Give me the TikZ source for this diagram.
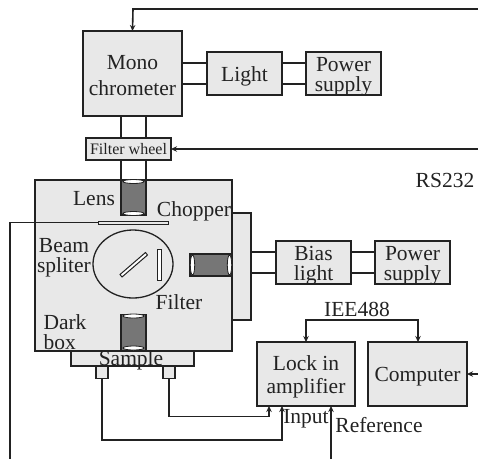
\documentclass[tikz,border=0pt]{standalone}
\usepackage{fontspec}
\setmainfont{Liberation Serif}
\usetikzlibrary{arrows.meta,calc}
\definecolor{boxgray}{HTML}{E8E8E8}
\definecolor{lensgray}{HTML}{767676}
\definecolor{inkc}{HTML}{222222}
\newcommand\dropped[1]{\raisebox{-8.5pt}[0pt][0pt]{\begin{tabular}{@{}c@{}}#1\end{tabular}}}
\tikzset{
  panel/.style={draw=inkc,line width=1.6pt,fill=boxgray,inner sep=0pt,outer sep=0pt,
    font=\fontsize{21.5}{18}\selectfont,text=inkc},
  lens/.style={draw=inkc,line width=1.6pt,fill=lensgray,inner sep=0pt,outer sep=0pt},
  lbl/.style={inner sep=0pt,outer sep=0pt,align=center,font=\fontsize{21.5}{18}\selectfont,text=inkc},
  wire/.style={draw=inkc,line width=1.6pt},
  arr/.style={wire,-{Stealth[length=6pt,width=5.5pt]}},
  opening/.style={draw=inkc,line width=0.8pt,fill=white}
}
\begin{document}
\begin{tikzpicture}[x=1pt,y=-1pt]
\useasboundingbox (0,0) rectangle (478,459);
% free ends
\coordinate (topR) at (478,9);
\coordinate (wheelR) at (478,149);
\coordinate (compR) at (478,374);
\coordinate (chopB) at (10,459);
\coordinate (refB) at (331,459);
\coordinate (chopC) at (10,222.5);
% side housing and dark box
\node[panel,minimum width=19pt,minimum height=107pt] (side) at (241.5,266.5) {};
\node[panel,minimum width=197pt,minimum height=171pt] (dark) at (133.5,265.5) {};
\node[panel,minimum width=123pt,minimum height=15pt] (sample) at (132.5,358.5) {};
\node[panel,minimum width=12pt,minimum height=12pt] (pinL) at (102,372.5) {};
\node[panel,minimum width=12pt,minimum height=12pt] (pinR) at (169,372.5) {};
% main boxes
\node[panel,minimum width=99pt,minimum height=85pt,font=\fontsize{21.5}{26}\selectfont] (mono) at (132.5,73.5) {\dropped{Mono\\chrometer}};
\node[panel,minimum width=75pt,minimum height=43pt] (light) at (244.5,73.5) {\dropped{Light}};
\node[panel,minimum width=75pt,minimum height=43pt] (psA) at (343.5,73.5) {\dropped{Power\\supply}};
\node[panel,minimum width=85pt,minimum height=22pt,font=\fontsize{16}{16}\selectfont] (wheel) at (128.5,149) {Filter wheel};
\node[panel,minimum width=75pt,minimum height=43pt] (bias) at (313.5,262.5) {\dropped{Bias\\light}};
\node[panel,minimum width=75pt,minimum height=43pt] (psB) at (412.5,262.5) {\dropped{Power\\supply}};
\node[panel,minimum width=98pt,minimum height=64pt,font=\fontsize{21.5}{23}\selectfont] (lock) at (306,374) {\dropped{Lock in\\amplifier}};
\node[panel,minimum width=99pt,minimum height=64pt] (comp) at (417.5,374) {\dropped{Computer}};
% paired links
\draw[wire] ([yshift=10.5pt]mono.east) -- ([yshift=10.5pt]light.west);
\draw[wire] ([yshift=-10.5pt]mono.east) -- ([yshift=-10.5pt]light.west);
\draw[wire] ([yshift=10.5pt]light.east) -- ([yshift=10.5pt]psA.west);
\draw[wire] ([yshift=-10.5pt]light.east) -- ([yshift=-10.5pt]psA.west);
\draw[wire] ([yshift=10.5pt]bias.east) -- ([yshift=10.5pt]psB.west);
\draw[wire] ([yshift=-10.5pt]bias.east) -- ([yshift=-10.5pt]psB.west);
\draw[wire] (side.east |- 0,252) -- ([yshift=10.5pt]bias.west);
\draw[wire] (side.east |- 0,273) -- ([yshift=-10.5pt]bias.west);
\draw[wire] (121,116.5) -- (121,138);
\draw[wire] (146,116.5) -- (146,138);
\draw[wire] (121,160) -- (121,180);
\draw[wire] (146,160) -- (146,180);
% lenses
\node[lens,minimum width=25pt,minimum height=35pt] (lensT) at (133.5,197.5) {};
\draw[opening] (133.5,181.5) ellipse (10.5pt and 2pt);
\draw[opening] (133.5,213.5) ellipse (10.5pt and 2pt);
\node[lens,minimum width=25pt,minimum height=36pt] (lensB) at (133.5,332.5) {};
\draw[opening] (133.5,316) ellipse (10.5pt and 2pt);
\draw[opening] (133.5,348) ellipse (10.5pt and 2pt);
\node[lens,minimum width=42pt,minimum height=22pt] (lensR) at (211,265) {};
\draw[opening] (192.5,265) ellipse (2.2pt and 10pt);
\draw[opening] (229.5,265) ellipse (2.2pt and 10pt);
% chopper
\node[panel,minimum width=70pt,minimum height=3pt,line width=1pt] (chop) at (133,222.5) {};
\draw[wire] (chop.west) -- (chopC) -- (chopB);
% beam splitter
\draw[draw=inkc,line width=1.3pt] (133,264) ellipse (40pt and 34pt);
\draw[draw=inkc,line width=1pt,fill=white] (120,274.5) -- (145.5,252.5) -- (147.5,255) -- (122,277) -- cycle;
\node[draw=inkc,line width=1pt,fill=white,minimum width=3.5pt,minimum height=31pt,inner sep=0pt] (filt) at (159.5,264.5) {};
% arrows
\draw[arr] (topR) -- (133,9) -- (mono.north);
\draw[arr] (wheelR) -- (wheel.east);
\draw[arr] (compR) -- (comp.east);
\draw[wire,{Stealth[length=6pt,width=5.5pt]}-{Stealth[length=6pt,width=5.5pt]}] (lock.north) -- ++(0,-22) -| (418,342);
\draw[arr] (pinR.south) -- (169,416.5) -| (269,406);
\draw[arr] (pinL.south) -- (102,440) -| (282,406);
\draw[arr] (refB) -- (331,406);
% labels
\node[lbl] (tRS) at (445,180) {RS232};
\node[lbl] (tLens) at (94,199) {Lens};
\node[lbl] (tChop) at (194,211) {Chopper};
\node[lbl] (tBeam) at (64,258) {\begin{tabular}{@{}c@{}}Beam\\spliter\end{tabular}};
\node[lbl] (tDark) at (65,335) {\begin{tabular}{@{}l@{}}Dark\\box\end{tabular}};
\node[lbl] (tFilt) at (179,302.5) {Filter};
\node[lbl] (tSample) at (131,360) {Sample};
\node[lbl] (tIn) at (306,418.5) {Input};
\node[lbl] (tRef) at (379,425) {Reference};
\node[lbl] (tIEE) at (357,309) {IEE488};
\end{tikzpicture}
\end{document}
